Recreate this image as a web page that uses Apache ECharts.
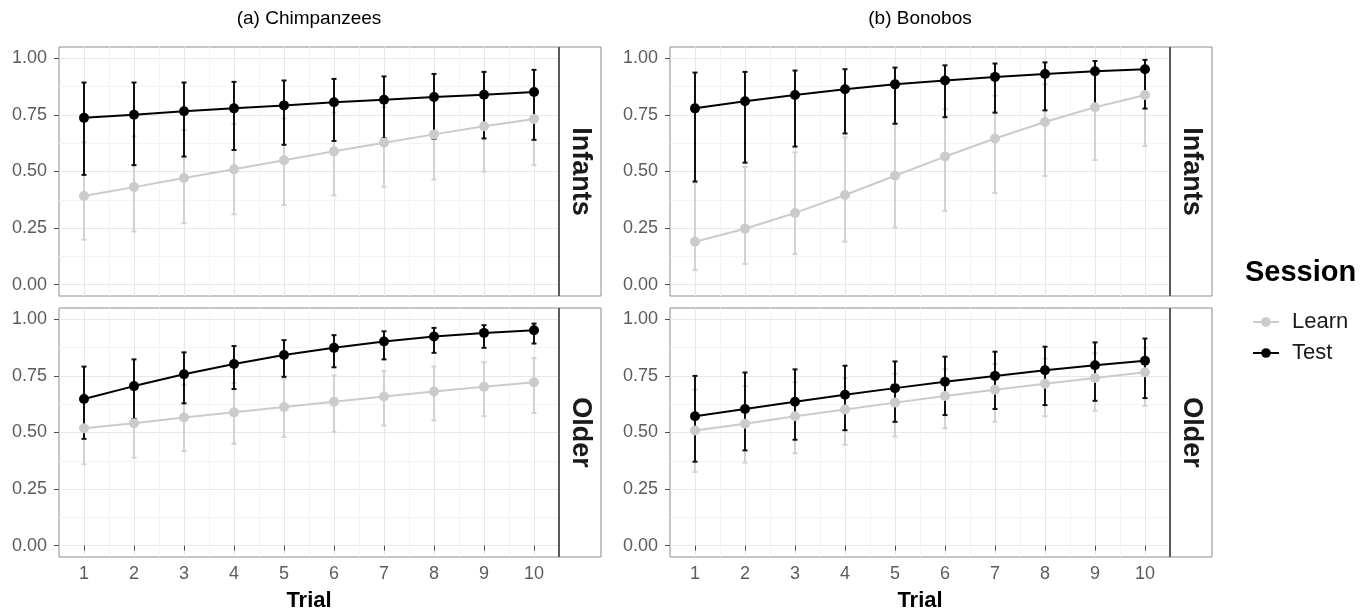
<!DOCTYPE html>
<html>
<head>
<meta charset="utf-8">
<title>Learn vs Test by trial</title>
<script src="https://cdn.jsdelivr.net/npm/echarts@6/dist/echarts.min.js"></script>
<style>
    html, body { margin: 0; padding: 0; background: #fff; }
    #chart { width: 1369px; height: 614px; }
</style>
</head>
<body>
<div id="chart"></div>
<script>
// x 刻度
var trials = [1, 2, 3, 4, 5, 6, 7, 8, 9, 10];
var trialMinor = [1.5, 2.5, 3.5, 4.5, 5.5, 6.5, 7.5, 8.5, 9.5];
var yTicks = [0, 0.25, 0.5, 0.75, 1];
var yMinor = [0.125, 0.375, 0.625, 0.875];
var sessions = ['Learn', 'Test'];

// (a) Chimpanzees - Infants
var chimpInfLearn = [0.392, 0.431, 0.471, 0.510, 0.550, 0.589, 0.627, 0.664, 0.700, 0.732];
var chimpInfLearnLo = [0.199, 0.235, 0.272, 0.311, 0.352, 0.395, 0.433, 0.465, 0.499, 0.528];
var chimpInfLearnHi = [0.629, 0.655, 0.684, 0.709, 0.735, 0.760, 0.785, 0.810, 0.835, 0.860];
var chimpInfTest = [0.737, 0.751, 0.766, 0.779, 0.792, 0.806, 0.817, 0.829, 0.839, 0.851];
var chimpInfTestLo = [0.485, 0.528, 0.566, 0.595, 0.618, 0.635, 0.646, 0.645, 0.646, 0.640];
var chimpInfTestHi = [0.893, 0.893, 0.893, 0.896, 0.902, 0.909, 0.920, 0.931, 0.940, 0.949];

// (a) Chimpanzees - Older
var chimpOldLearn = [0.519, 0.541, 0.566, 0.589, 0.613, 0.636, 0.659, 0.681, 0.702, 0.722];
var chimpOldLearnLo = [0.360, 0.389, 0.418, 0.450, 0.480, 0.503, 0.531, 0.553, 0.572, 0.586];
var chimpOldLearnHi = [0.670, 0.690, 0.710, 0.718, 0.737, 0.752, 0.772, 0.791, 0.811, 0.829];
var chimpOldTest = [0.648, 0.705, 0.757, 0.803, 0.842, 0.874, 0.902, 0.924, 0.940, 0.952];
var chimpOldTestLo = [0.472, 0.560, 0.629, 0.692, 0.746, 0.788, 0.823, 0.852, 0.874, 0.893];
var chimpOldTestHi = [0.791, 0.823, 0.854, 0.882, 0.908, 0.930, 0.947, 0.962, 0.974, 0.981];

// (b) Bonobos - Infants
var bonoInfLearn = [0.190, 0.247, 0.317, 0.396, 0.481, 0.566, 0.646, 0.719, 0.784, 0.838];
var bonoInfLearnLo = [0.064, 0.092, 0.135, 0.190, 0.253, 0.326, 0.405, 0.480, 0.551, 0.613];
var bonoInfLearnHi = [0.450, 0.520, 0.585, 0.651, 0.712, 0.775, 0.835, 0.885, 0.925, 0.955];
var bonoInfTest = [0.779, 0.810, 0.838, 0.863, 0.885, 0.902, 0.918, 0.931, 0.943, 0.952];
var bonoInfTestLo = [0.456, 0.539, 0.610, 0.668, 0.711, 0.740, 0.760, 0.770, 0.776, 0.778];
var bonoInfTestHi = [0.937, 0.940, 0.946, 0.952, 0.959, 0.969, 0.977, 0.982, 0.988, 0.993];

// (b) Bonobos - Older
var bonoOldLearn = [0.509, 0.539, 0.572, 0.602, 0.632, 0.661, 0.689, 0.715, 0.741, 0.766];
var bonoOldLearnLo = [0.326, 0.367, 0.408, 0.446, 0.482, 0.518, 0.547, 0.572, 0.596, 0.618];
var bonoOldLearnHi = [0.690, 0.705, 0.722, 0.740, 0.760, 0.780, 0.802, 0.826, 0.850, 0.875];
var bonoOldTest = [0.572, 0.604, 0.636, 0.667, 0.696, 0.724, 0.750, 0.775, 0.797, 0.817];
var bonoOldTestLo = [0.371, 0.421, 0.468, 0.510, 0.547, 0.577, 0.604, 0.621, 0.640, 0.652];
var bonoOldTestHi = [0.750, 0.765, 0.779, 0.795, 0.814, 0.835, 0.857, 0.879, 0.898, 0.915];

var FONT = '"Liberation Sans", Arial, Helvetica, sans-serif';
var colors = { Learn: '#cbcbcb', Test: '#000000' };
var barColors = { Learn: '#d2d2d2', Test: '#111111' };
var tickText = '#5c5c5c';

var panels = [
    { left: 59, top: 47, strip: 'Infants', bottom: false,
      Learn: [chimpInfLearn, chimpInfLearnLo, chimpInfLearnHi], Test: [chimpInfTest, chimpInfTestLo, chimpInfTestHi] },
    { left: 59, top: 308, strip: 'Older', bottom: true,
      Learn: [chimpOldLearn, chimpOldLearnLo, chimpOldLearnHi], Test: [chimpOldTest, chimpOldTestLo, chimpOldTestHi] },
    { left: 670, top: 47, strip: 'Infants', bottom: false,
      Learn: [bonoInfLearn, bonoInfLearnLo, bonoInfLearnHi], Test: [bonoInfTest, bonoInfTestLo, bonoInfTestHi] },
    { left: 670, top: 308, strip: 'Older', bottom: true,
      Learn: [bonoOldLearn, bonoOldLearnLo, bonoOldLearnHi], Test: [bonoOldTest, bonoOldTestLo, bonoOldTestHi] }
];
var PW = 500, PH = 249, SW = 42;

function renderErrorBar(params, api) {
    var x = api.value(0);
    var hi = api.coord([x, api.value(2)]);
    var lo = api.coord([x, api.value(1)]);
    var half = 2.5;
    var style = { stroke: api.visual('color'), lineWidth: 2 };
    return {
        type: 'group',
        children: [
            { type: 'line', shape: { x1: hi[0], y1: hi[1], x2: lo[0], y2: lo[1] }, style: style },
            { type: 'line', shape: { x1: hi[0] - half, y1: hi[1], x2: hi[0] + half, y2: hi[1] }, style: style },
            { type: 'line', shape: { x1: lo[0] - half, y1: lo[1], x2: lo[0] + half, y2: lo[1] }, style: style }
        ]
    };
}

var grids = [], xAxes = [], yAxes = [], lineSeries = [], barSeries = [], graphics = [];

panels.forEach(function(p, i) {
    grids.push({
        left: p.left, top: p.top, width: PW, height: PH,
        show: true, borderColor: '#8c8c8c', borderWidth: 1, backgroundColor: '#fff'
    });
    // 主刻度
    xAxes.push({
        gridIndex: i, type: 'value', min: 0.5, max: 10.5,
        axisLine: { show: false },
        axisTick: { show: p.bottom, customValues: trials, length: 5, lineStyle: { color: '#4d4d4d', width: 1 } },
        axisLabel: { show: p.bottom, customValues: trials, margin: 8, fontSize: 18, color: tickText, fontFamily: FONT },
        splitLine: { show: true, lineStyle: { color: '#e8e8e8', width: 1 } },
        name: p.bottom ? 'Trial' : '',
        nameLocation: 'middle',
        nameGap: 33,
        nameTextStyle: { fontSize: 22, fontWeight: 'bold', color: '#000', fontFamily: FONT }
    });
    // 次刻度网格
    xAxes.push({
        gridIndex: i, type: 'value', min: 0.5, max: 10.5,
        axisLine: { show: false },
        axisTick: { show: false, customValues: trialMinor },
        axisLabel: { show: false, customValues: trialMinor },
        splitLine: { show: true, lineStyle: { color: '#f4f4f4', width: 1 } }
    });
    yAxes.push({
        gridIndex: i, type: 'value', min: -0.05, max: 1.05,
        axisLine: { show: false },
        axisTick: { show: true, customValues: yTicks, length: 5, lineStyle: { color: '#4d4d4d', width: 1 } },
        axisLabel: {
            customValues: yTicks, margin: 12, fontSize: 18, color: tickText, fontFamily: FONT,
            formatter: function(v) { return v.toFixed(2); }
        },
        splitLine: { show: true, lineStyle: { color: '#e8e8e8', width: 1 } }
    });
    yAxes.push({
        gridIndex: i, type: 'value', min: -0.05, max: 1.05,
        axisLine: { show: false },
        axisTick: { show: false, customValues: yMinor },
        axisLabel: { show: false, customValues: yMinor },
        splitLine: { show: true, lineStyle: { color: '#f4f4f4', width: 1 } }
    });

    sessions.forEach(function(s) {
        var mean = p[s][0], lo = p[s][1], hi = p[s][2];
        lineSeries.push({
            name: s, type: 'line',
            xAxisIndex: i * 2, yAxisIndex: i * 2,
            data: trials.map(function(t, k) { return [t, mean[k]]; }),
            symbol: 'circle', symbolSize: 10,
            itemStyle: { color: colors[s] },
            lineStyle: { color: colors[s], width: 2 },
            z: 3, silent: true, animation: false, clip: false
        });
        barSeries.push({
            name: s, type: 'custom',
            xAxisIndex: i * 2, yAxisIndex: i * 2,
            data: trials.map(function(t, k) { return [t, lo[k], hi[k]]; }),
            encode: { x: 0, y: [1, 2] },
            renderItem: renderErrorBar,
            itemStyle: { color: barColors[s] },
            z: 2, silent: true, animation: false
        });
    });

    // 分面条
    var sx = p.left + PW;
    graphics.push({
        type: 'rect', z: 100,
        shape: { x: sx, y: p.top, width: SW, height: PH },
        style: { fill: '#fff', stroke: '#8c8c8c', lineWidth: 1 }
    });
    graphics.push({
        type: 'line', z: 101,
        shape: { x1: sx, y1: p.top, x2: sx, y2: p.top + PH },
        style: { stroke: '#5a5a5a', lineWidth: 2 }
    });
    graphics.push({
        type: 'text', z: 102,
        x: sx + SW / 2, y: p.top + PH / 2,
        rotation: -Math.PI / 2,
        style: {
            text: p.strip, font: 'bold 27px ' + FONT, fill: '#1a1a1a',
            textAlign: 'center', align: 'center', textVerticalAlign: 'middle', verticalAlign: 'middle'
        }
    });
});

graphics.push({
    type: 'text', z: 102, x: 59 + PW / 2, y: 19,
    style: { text: '(a) Chimpanzees', font: '19px ' + FONT, fill: '#000',
             textAlign: 'center', align: 'center', textVerticalAlign: 'middle', verticalAlign: 'middle' }
});
graphics.push({
    type: 'text', z: 102, x: 670 + PW / 2, y: 19,
    style: { text: '(b) Bonobos', font: '19px ' + FONT, fill: '#000',
             textAlign: 'center', align: 'center', textVerticalAlign: 'middle', verticalAlign: 'middle' }
});
graphics.push({
    type: 'text', z: 102, x: 1245, y: 273,
    style: { text: 'Session', font: 'bold 29px ' + FONT, fill: '#000',
             textAlign: 'left', align: 'left', textVerticalAlign: 'middle', verticalAlign: 'middle' }
});

var chart = echarts.init(document.getElementById('chart'));
var option = {
    backgroundColor: '#fff',
    animation: false,
    grid: grids,
    xAxis: xAxes,
    yAxis: yAxes,
    legend: {
        data: sessions,
        orient: 'vertical',
        left: 1247, top: 306,
        itemWidth: 26, itemHeight: 12, itemGap: 9,
        selectedMode: false,
        textStyle: { fontSize: 22, color: '#1a1a1a', fontFamily: FONT, padding: [0, 0, 0, 8] }
    },
    graphic: { elements: graphics },
    series: lineSeries.concat(barSeries)
};
chart.setOption(option);
</script>
</body>
</html>
